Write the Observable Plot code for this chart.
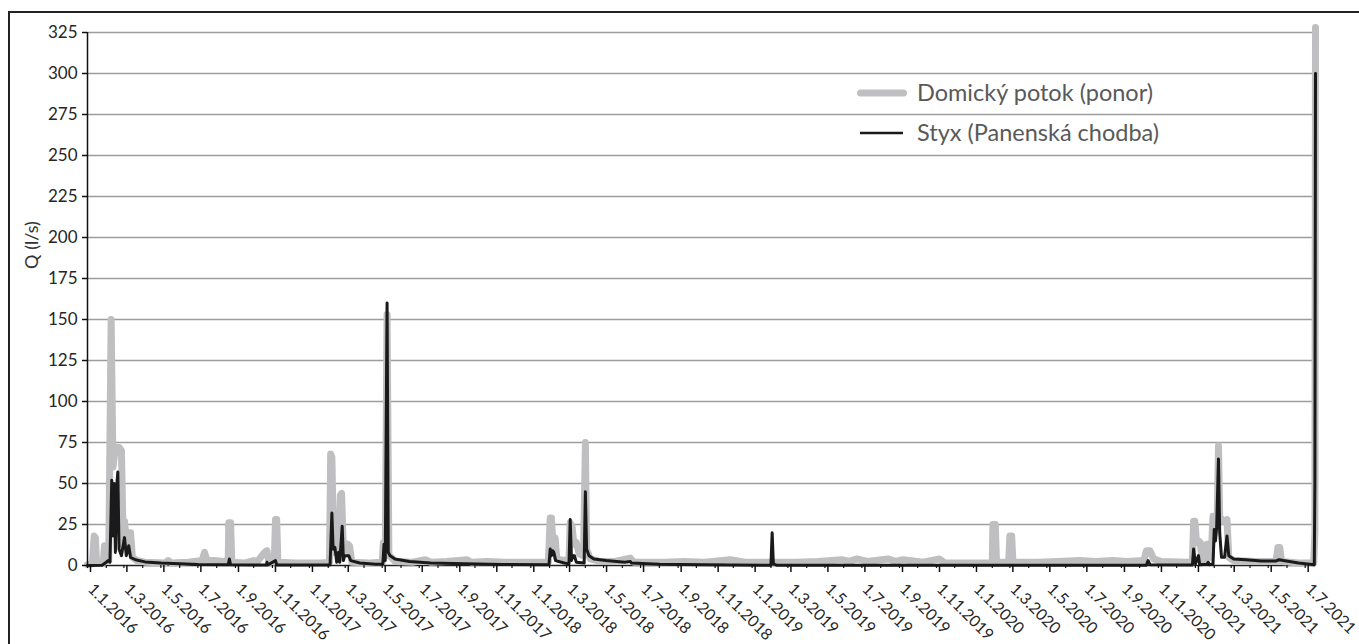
<!DOCTYPE html>
<html><head><meta charset="utf-8">
<script src="https://cdn.jsdelivr.net/npm/d3@7"></script>
<script src="https://cdn.jsdelivr.net/npm/@observablehq/plot@0.6"></script>
<style>
html,body{margin:0;padding:0;background:#fff;overflow:hidden;width:1359px;height:644px;}
#frame{position:absolute;left:8px;top:11px;width:1400px;height:700px;border:2px solid #222;box-sizing:border-box;}
#chart{position:absolute;left:0;top:0;}
#chart svg{overflow:visible;}
.leg{position:absolute;font-family:Lato,sans-serif;font-size:23.5px;color:#595959;white-space:nowrap;line-height:1;}
#ytitle{position:absolute;font-family:Lato,sans-serif;font-size:18px;color:#333;white-space:nowrap;transform:translate(-50%,-50%) rotate(-90deg);}
</style></head><body>
<div id="frame"></div>
<div id="chart"></div>
<svg style="position:absolute;left:0;top:0" width="1359" height="644">
  <line x1="860.5" y1="93" x2="903.5" y2="93" stroke="#bfbfc1" stroke-width="7" stroke-linecap="round"/>
  <line x1="860" y1="133" x2="903" y2="133" stroke="#1a1a1a" stroke-width="2.5"/>
</svg>
<div class="leg" id="leg1" style="left:917px;top:81px;"></div>
<div class="leg" id="leg2" style="left:917px;top:121px;"></div>
<div id="ytitle" style="left:31px;top:245px;"></div>
<script>
const seriesNames = ["Domický potok (ponor)", "Styx (Panenská chodba)"];
const yTitle = "Q (l/s)";
const yTicks = [0, 25, 50, 75, 100, 125, 150, 175, 200, 225, 250, 275, 300, 325];

const domDates = ["2016-01-01","2016-01-09","2016-01-12","2016-01-14","2016-01-16","2016-01-27","2016-01-29","2016-01-31","2016-02-03","2016-02-05","2016-02-09","2016-02-12","2016-02-16","2016-02-22","2016-02-26","2016-02-29","2016-03-02","2016-03-06","2016-03-09","2016-03-12","2016-03-15","2016-03-22","2016-04-05","2016-05-08","2016-05-13","2016-05-18","2016-06-15","2016-07-08","2016-07-12","2016-07-16","2016-07-28","2016-08-12","2016-08-20","2016-08-21","2016-08-24","2016-08-26","2016-09-15","2016-10-01","2016-10-05","2016-10-19","2016-10-23","2016-10-26","2016-11-04","2016-11-06","2016-11-08","2016-11-10","2016-12-10","2017-01-20","2017-02-03","2017-02-05","2017-02-07","2017-02-10","2017-02-15","2017-02-18","2017-02-21","2017-02-23","2017-02-26","2017-03-05","2017-03-08","2017-03-12","2017-04-10","2017-05-01","2017-05-03","2017-05-06","2017-05-09","2017-05-12","2017-05-16","2017-05-22","2017-06-20","2017-07-11","2017-07-20","2017-08-15","2017-09-18","2017-09-25","2017-10-20","2017-11-20","2017-12-15","2018-01-30","2018-02-02","2018-02-04","2018-02-07","2018-02-10","2018-02-13","2018-02-25","2018-03-05","2018-03-07","2018-03-10","2018-03-13","2018-03-17","2018-03-22","2018-03-29","2018-04-01","2018-04-03","2018-04-09","2018-04-25","2018-05-20","2018-06-14","2018-06-20","2018-08-10","2018-09-10","2018-10-15","2018-11-26","2018-12-20","2019-01-20","2019-03-15","2019-04-20","2019-05-29","2019-06-10","2019-06-23","2019-07-10","2019-08-13","2019-08-25","2019-09-07","2019-10-10","2019-11-06","2019-11-15","2020-01-20","2020-02-01","2020-02-02","2020-02-06","2020-02-08","2020-02-28","2020-03-01","2020-03-04","2020-03-06","2020-04-15","2020-05-20","2020-06-25","2020-07-20","2020-08-18","2020-09-10","2020-10-08","2020-10-12","2020-10-18","2020-10-24","2020-11-05","2020-12-20","2020-12-27","2020-12-29","2020-12-31","2021-01-03","2021-01-06","2021-01-09","2021-01-12","2021-01-18","2021-01-20","2021-01-23","2021-01-27","2021-01-30","2021-02-03","2021-02-06","2021-02-08","2021-02-10","2021-02-15","2021-02-22","2021-02-25","2021-03-05","2021-04-10","2021-05-14","2021-05-17","2021-05-20","2021-05-23","2021-06-20","2021-07-15","2021-07-17","2021-07-18"];
const domQ = [0.5,1,18,17,1.5,1.5,12,11,3,3,150,60,72,72,70,12,27,12,20,20,5,3,2,1.5,3,1.5,2,3,8,3,3,2.5,3,26,26,2,1.5,3,1.5,8,9,2,2,28,28,2,1.5,1.5,2,68,66,8,11,6,43,44,8,13,12,2,1.5,2,14,6,153,6,5,2.5,2,3.5,2,2.5,3.5,2,2.5,2,2,2,29,29,10,17,4,3,4,26,24,13,14,7,6,75,10,4,2.5,2.5,4.5,2,2,2.5,2,3.5,2,2,2,2.5,3.5,2.5,4,2.5,4,2.5,3.5,2,4,1.5,1.5,2,25,25,2,2,18,18,2,2,2.5,3,2.5,3,2.5,3,9,9,4,2.5,2,2,27,27,14,15,14,3,3,13,13,5,30,28,30,73,30,27,28,5,3,2.5,2.5,11,11,2.5,1.5,1.5,20,328];

const styxDates = ["2016-01-01","2016-01-25","2016-02-01","2016-02-04","2016-02-07","2016-02-10","2016-02-12","2016-02-14","2016-02-16","2016-02-18","2016-02-20","2016-02-22","2016-02-26","2016-03-02","2016-03-05","2016-03-09","2016-03-12","2016-03-20","2016-04-05","2016-05-01","2016-06-01","2016-07-01","2016-08-20","2016-08-22","2016-08-24","2016-10-22","2016-10-23","2016-10-24","2016-11-06","2016-11-08","2017-02-04","2017-02-07","2017-02-09","2017-02-12","2017-02-15","2017-02-18","2017-02-20","2017-02-24","2017-02-26","2017-02-28","2017-03-03","2017-03-07","2017-03-10","2017-03-25","2017-04-20","2017-05-02","2017-05-04","2017-05-06","2017-05-09","2017-05-11","2017-05-14","2017-05-22","2017-06-15","2017-07-20","2017-09-15","2017-11-15","2018-01-31","2018-02-02","2018-02-04","2018-02-06","2018-02-08","2018-02-11","2018-02-25","2018-03-05","2018-03-07","2018-03-09","2018-03-12","2018-03-14","2018-03-17","2018-03-30","2018-04-01","2018-04-03","2018-04-07","2018-04-15","2018-05-05","2018-06-05","2018-06-14","2018-06-16","2018-08-01","2018-10-15","2019-02-01","2019-02-03","2019-02-05","2019-02-10","2020-10-12","2020-10-15","2020-10-18","2020-12-27","2020-12-29","2021-01-01","2021-01-06","2021-01-08","2021-01-20","2021-01-22","2021-01-24","2021-01-30","2021-02-01","2021-02-03","2021-02-05","2021-02-08","2021-02-10","2021-02-13","2021-02-18","2021-02-22","2021-02-25","2021-03-05","2021-03-25","2021-04-20","2021-05-14","2021-05-19","2021-05-26","2021-06-20","2021-07-16","2021-07-17","2021-07-18"];
const styxQ = [0,0.2,2,3,2,52,18,50,8,48,57,10,6,17,6,12,5,3.5,2.2,1.5,1,0.6,0.4,4,0.4,0.3,2,0.3,3,0.3,0.3,32,10,11,2,8,2,24,3,6,6,6,3,1.5,0.8,0.8,13,3,160,8,6,4,2.5,1.5,1,0.6,0.5,10,6,9,8,3,1.5,1,28,3,6,6,2,1.5,45,10,6,4,3,2,2.5,1.5,0.8,0.4,0.2,20,1,0.2,0.2,3,0.5,0.3,10,1,6,0.5,0.8,2,0.5,1,22,15,23,65,20,5,5,18,6,4,3.5,2.8,2.8,3.5,3,1.5,0.5,50,300];

const parse = d3.utcParse("%Y-%m-%d");
const dom = domDates.map((d, i) => ({date: parse(d), q: domQ[i]}));
const styx = styxDates.map((d, i) => ({date: parse(d), q: styxQ[i]}));

const xStart = parse("2016-01-01"), xEnd = parse("2021-07-18");
const majorTicks = d3.utcMonth.every(2).range(xStart, parse("2021-07-02"));
const minorTicks = d3.utcMonth.range(xStart, parse("2021-07-02"));
const fmt = d => `${d.getUTCDate()}.${d.getUTCMonth() + 1}.${d.getUTCFullYear()}`;

const chart = Plot.plot({
  width: 1359, height: 644,
  marginLeft: 87, marginRight: 44, marginTop: 32, marginBottom: 79,
  style: {fontFamily: "Lato, sans-serif", fontSize: "17px", color: "#262626", background: "transparent"},
  x: {type: "utc", domain: [xStart, xEnd]},
  y: {domain: [0, 325]},
  marks: [
    Plot.gridY(yTicks.filter(t => t > 0), {stroke: "#9d9d9d", strokeOpacity: 1, strokeWidth: 1.5}),
    Plot.ruleY([0], {stroke: "#222", strokeWidth: 1.5}),
    Plot.line(dom, {x: "date", y: "q", stroke: "#bfbfc1", strokeWidth: 7, strokeLinejoin: "round", strokeLinecap: "round"}),
    Plot.line(styx, {x: "date", y: "q", stroke: "#1a1a1a", strokeWidth: 3, strokeLinejoin: "round"}),
    Plot.ruleX([xStart], {y1: 0, y2: 325, stroke: "#111", strokeWidth: 1.5}),
    Plot.axisY(yTicks, {tickSize: 5, tickPadding: 5, fontSize: 17, stroke: "#111", strokeWidth: 1.5, label: null, fill: "#262626"}),
    Plot.axisX(minorTicks, {tickSize: 3, tickFormat: () => "", label: null, stroke: "#111", strokeWidth: 1.2}),
    Plot.axisX(majorTicks, {tickSize: 7, tickPadding: 14, dx: 3, tickRotate: 45, tickFormat: fmt, fontSize: 16, label: null, stroke: "#111", strokeWidth: 1.5, fill: "#262626"})
  ]
});
document.getElementById("chart").appendChild(chart);
document.getElementById("leg1").textContent = seriesNames[0];
document.getElementById("leg2").textContent = seriesNames[1];
document.getElementById("ytitle").textContent = yTitle;
</script>
</body></html>
